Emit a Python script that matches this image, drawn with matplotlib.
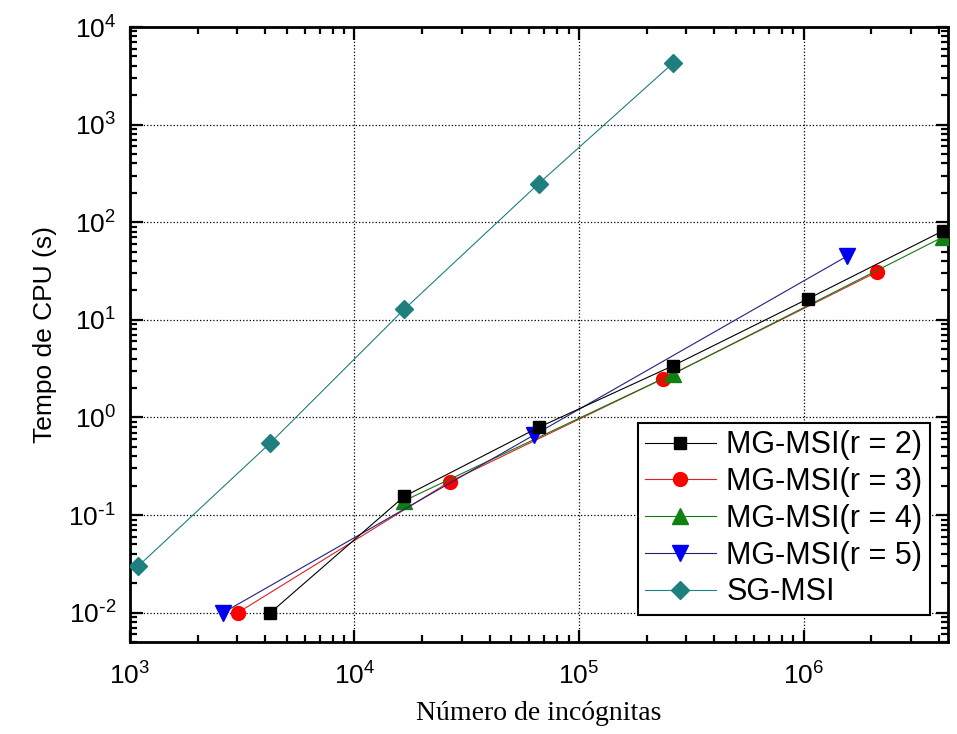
import numpy as np
import matplotlib
matplotlib.use('Agg')
import matplotlib.pyplot as plt
from matplotlib.ticker import FuncFormatter, LogLocator, NullFormatter

# number of unknowns per series (grid points squared)
n_r2 = [4225, 16641, 66049, 263169, 1050625, 4198401]
t_r2 = [0.01, 0.155, 0.79, 3.4, 16.5, 82]

n_r3 = [3025, 26569, 237169, 2128681]
t_r3 = [0.01, 0.22, 2.5, 31]

n_r4 = [16641, 263169, 4198401]
t_r4 = [0.14, 2.8, 71]

n_r5 = [2601, 63001, 1565001]
t_r5 = [0.01, 0.66, 45]

n_sg = [1089, 4225, 16641, 66049, 263169]
t_sg = [0.03, 0.55, 12.8, 248, 4300]

labels = ['MG-MSI(r = 2)', 'MG-MSI(r = 3)', 'MG-MSI(r = 4)', 'MG-MSI(r = 5)', 'SG-MSI']

plt.rcParams['font.family'] = ['Liberation Sans', 'DejaVu Sans']
plt.rcParams['mathtext.default'] = 'regular'
plt.rcParams['axes.unicode_minus'] = False


def pow10(v, pos):
    e = int(round(np.log10(v)))
    if e < 0:
        return r'$10^{\text{-}%d}$' % (-e)
    return r'$10^{%d}$' % e


fig = plt.figure(figsize=(9.57, 7.34), dpi=100)
ax = fig.add_axes([0.1358, 0.1253, 0.8548, 0.8379])

ax.plot(n_r2, t_r2, '-', color='black', lw=0.8, marker='s', ms=9, mfc='black', mec='black', label=labels[0], zorder=5)
ax.plot(n_r3, t_r3, '-', color='#e02020', lw=0.8, marker='o', ms=10, mfc='red', mec='red', label=labels[1], zorder=4)
ax.plot(n_r4, t_r4, '-', color='#117a11', lw=0.8, marker='^', ms=11, mfc='#108010', mec='#108010', label=labels[2], zorder=4)
ax.plot(n_r5, t_r5, '-', color='#20207a', lw=0.8, marker='v', ms=11, mfc='#0000ee', mec='#0000ee', label=labels[3], zorder=4)
ax.plot(n_sg, t_sg, '-', color='#1c8080', lw=0.8, marker='D', ms=9, mfc='#1f7f7f', mec='#1f7f7f', label=labels[4], zorder=4)

ax.set_xscale('log')
ax.set_yscale('log')
ax.set_xlim(1e3, 4.4e6)
ax.set_ylim(5e-3, 1e4)
for a in (ax.xaxis, ax.yaxis):
    a.set_major_locator(LogLocator(base=10))
    a.set_major_formatter(FuncFormatter(pow10))
    a.set_minor_formatter(NullFormatter())

ax.grid(True, which='major', linestyle=':', color='black', lw=0.9)
for s in ax.spines.values():
    s.set_linewidth(2)
ax.tick_params(which='both', direction='in', top=True, right=True, width=1.6)
ax.tick_params(which='major', length=9, labelsize=19)
ax.tick_params(axis='x', which='major', pad=15)
ax.tick_params(axis='y', which='major', pad=10)
ax.tick_params(which='minor', length=5)

ax.set_ylabel('Tempo de CPU (s)', fontsize=19, labelpad=8)
ax.set_xlabel('Número de incógnitas', fontsize=20, family=['Liberation Serif', 'DejaVu Serif'], labelpad=8)

leg = ax.legend(loc='lower right', bbox_to_anchor=(0.978, 0.044), fontsize=22,
                frameon=True, fancybox=False, edgecolor='black', framealpha=1,
                handlelength=2.3, handletextpad=0.35, borderpad=0.25, labelspacing=0.22,
                borderaxespad=0)
leg.get_frame().set_linewidth(1.5)

fig.savefig('out.png', dpi=100)
